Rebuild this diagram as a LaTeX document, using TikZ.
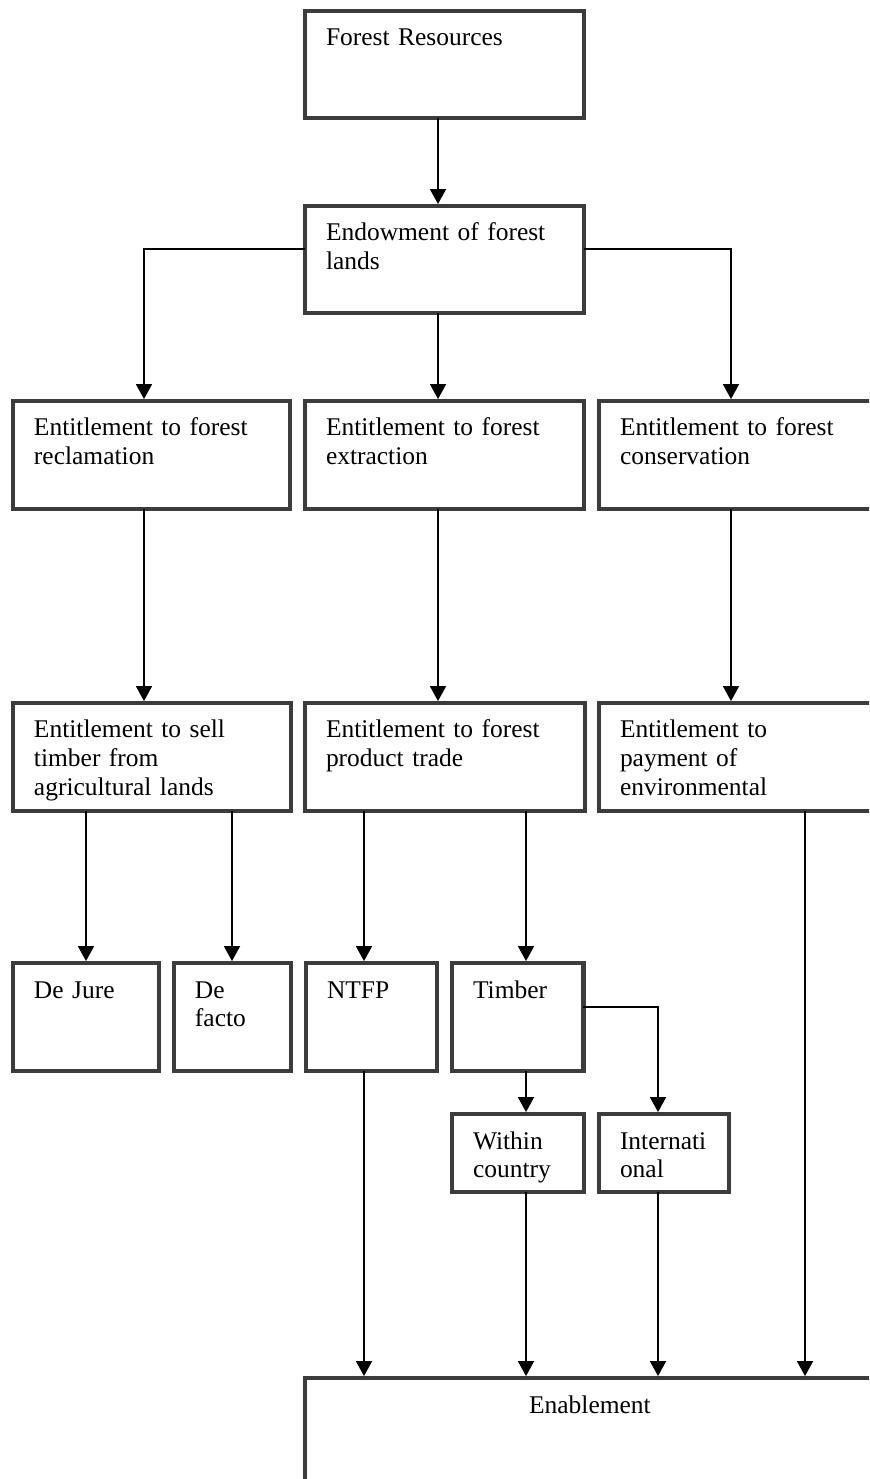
\documentclass[tikz,border=0pt]{standalone}
\usepackage{fontspec}
\setmainfont{Liberation Serif}
\usetikzlibrary{arrows.meta}
\definecolor{boxgray}{HTML}{3C3C3C}

\begin{document}
\begin{tikzpicture}[
  x=0.02cm, y=-0.02cm,
  every node/.style={font=\fontsize{14.5pt}{16.4pt}\selectfont},
  box/.style={draw=boxgray, line width=2.3pt, outer sep=0pt, anchor=north west,
    inner xsep=0.42cm, inner ysep=0pt, align=left, text height=0.70cm},
  arr/.style={-{Triangle[width=0.32cm,length=0.3cm]}, line width=1pt, shorten >=1.1pt}
]
  \clip (0,0) rectangle (869,1479);

  \node[box, text width=4.74cm, text depth=1.44cm] (res) at (305,11) {Forest Resources};
  \node[box, text width=4.74cm, text depth=1.44cm] (endw) at (305,206) {Endowment of forest\\lands};

  \node[box, text width=4.70cm, text depth=1.46cm] (recl) at (13,401) {Entitlement to forest\\reclamation};
  \node[box, text width=4.74cm, text depth=1.46cm] (extr) at (305,401) {Entitlement to forest\\extraction};
  \node[box, text width=5.18cm, text depth=1.46cm] (cons) at (599,401) {Entitlement to forest\\conservation};

  \node[box, text width=4.72cm, text depth=1.46cm] (sell) at (13,703) {Entitlement to sell\\timber from\\agricultural lands};
  \node[box, text width=4.76cm, text depth=1.46cm] (trade) at (305,703) {Entitlement to forest\\product trade};
  \node[box, text width=5.18cm, text depth=1.46cm] (pay) at (599,703) {Entitlement to\\payment of\\environmental};

  \node[box, text width=2.09cm, text depth=1.46cm] (jure) at (13,963) {De Jure};
  \node[box, text width=1.50cm, text depth=1.46cm] (facto) at (174,963) {De\\facto};
  \node[box, text width=1.78cm, text depth=1.46cm] (ntfp) at (306,963) {NTFP};
  \node[box, text width=1.79cm, text depth=1.46cm] (timb) at (452,963) {Timber};

  \node[box, text width=1.80cm, text depth=0.86cm] (within) at (452,1114) {Within\\country};
  \node[box, text width=1.76cm, text depth=0.86cm] (intl) at (599,1114) {Internati\\onal};

  \node[box, align=center, text width=10.56cm, text depth=1.74cm] (enab) at (305,1378) {Enablement};

  \draw[arr] (438,0 |- res.south) -- (438,0 |- endw.north);
  \draw[arr] (endw.west |- 0,249) -| (144,0 |- recl.north);
  \draw[arr] (438,0 |- endw.south) -- (438,0 |- extr.north);
  \draw[arr] (endw.east |- 0,249) -| (731,0 |- cons.north);

  \draw[arr] (144,0 |- recl.south) -- (144,0 |- sell.north);
  \draw[arr] (438,0 |- extr.south) -- (438,0 |- trade.north);
  \draw[arr] (731,0 |- cons.south) -- (731,0 |- pay.north);

  \draw[arr] (86,0 |- sell.south) -- (86,0 |- jure.north);
  \draw[arr] (232,0 |- sell.south) -- (232,0 |- facto.north);
  \draw[arr] (364,0 |- trade.south) -- (364,0 |- ntfp.north);
  \draw[arr] (526,0 |- trade.south) -- (526,0 |- timb.north);

  % timber splits into two markets
  \draw[arr] (526,0 |- timb.south) -- (526,0 |- within.north);
  \draw[arr] (timb.east |- 0,1007) -| (658,0 |- intl.north);

  \draw[arr] (364,0 |- ntfp.south) -- (364,0 |- enab.north);
  \draw[arr] (526,0 |- within.south) -- (526,0 |- enab.north);
  \draw[arr] (658,0 |- intl.south) -- (658,0 |- enab.north);
  \draw[arr] (805,0 |- pay.south) -- (805,0 |- enab.north);
\end{tikzpicture}
\end{document}
